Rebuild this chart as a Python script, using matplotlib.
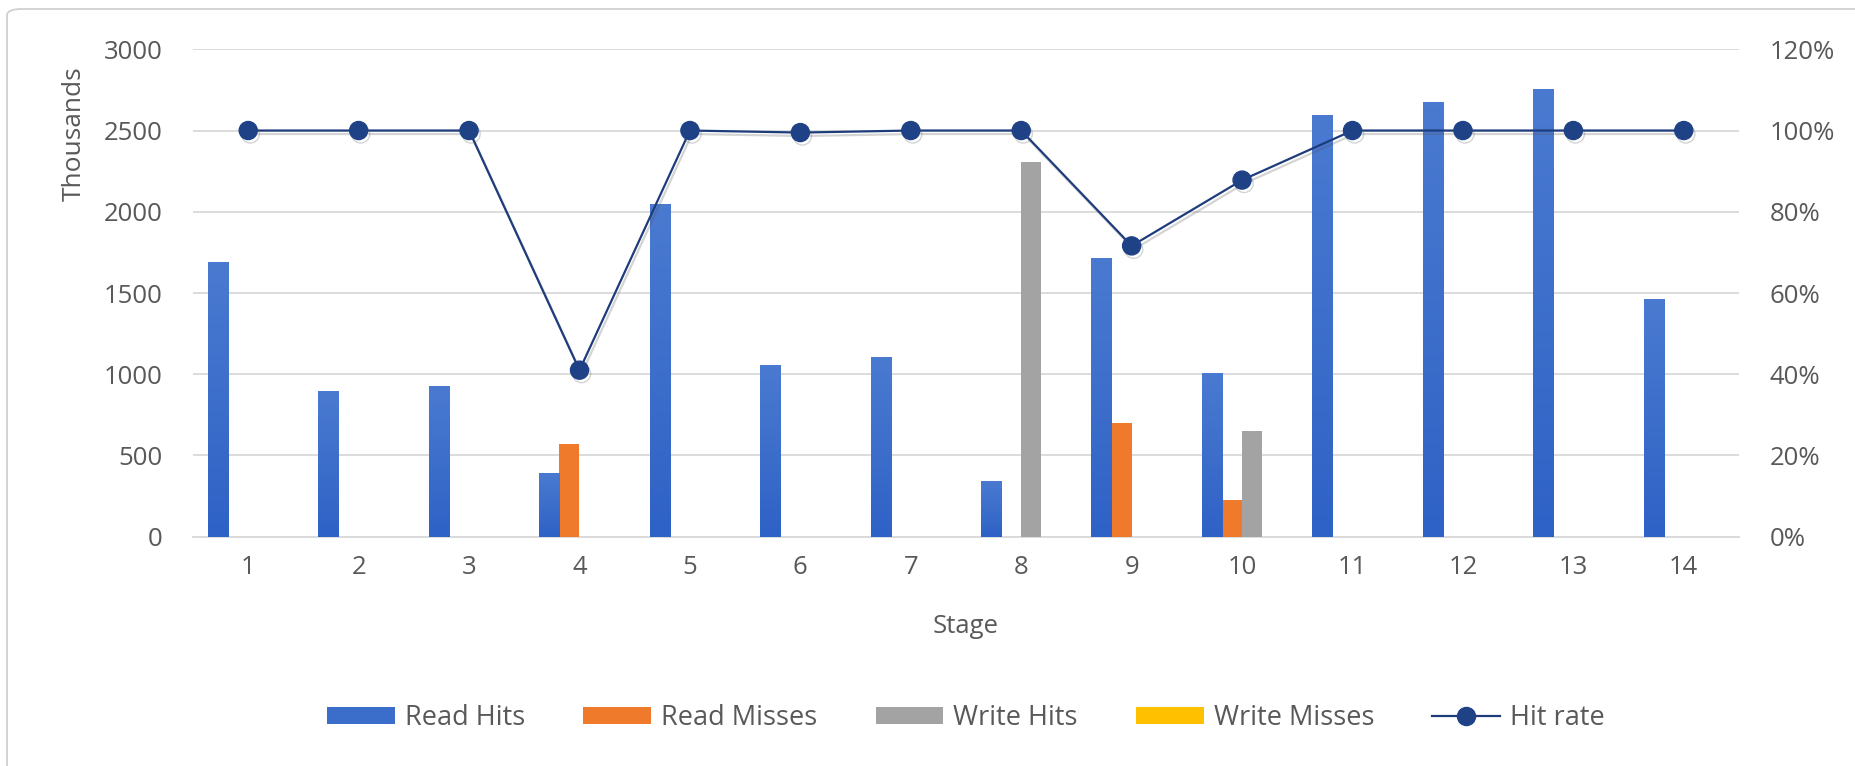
import numpy as np
import matplotlib
matplotlib.use("Agg")
import matplotlib.pyplot as plt
from matplotlib.patches import Patch, FancyBboxPatch
from matplotlib.lines import Line2D
from matplotlib.colors import LinearSegmentedColormap
import matplotlib.patheffects as pe
from matplotlib.ticker import FuncFormatter

# Cache activity per stage (values in thousands)
stages = list(range(1, 15))
read_hits = [1690, 897, 928, 394, 2048, 1057, 1104, 343, 1717, 1006, 2595, 2677, 2757, 1461]
read_misses = [0, 0, 0, 570, 0, 0, 0, 0, 698, 226, 0, 0, 0, 0]
write_hits = [0, 0, 0, 0, 0, 0, 0, 2304, 0, 651, 0, 0, 0, 0]
write_misses = [0, 0, 0, 0, 0, 0, 0, 0, 0, 0, 0, 0, 0, 0]
hit_rate = [100, 100, 100, 41, 100, 99.5, 100, 100, 71.6, 87.8, 100, 100, 100, 100]

series_names = ["Read Hits", "Read Misses", "Write Hits", "Write Misses"]
series_colors = ["#3B6DCB", "#EF7A2C", "#A3A3A3", "#FFC000"]
line_color = "#1E3C7C"
marker_color = "#1F4287"
text_color = "#595959"
grid_color = "#D9D9D9"

plt.rcParams["font.family"] = ["Open Sans", "DejaVu Sans"]

fig = plt.figure(figsize=(18.56, 7.66), dpi=100)
ax = fig.add_axes([193 / 1856, 1 - 536.7 / 766, (1739 - 193) / 1856, (536.7 - 49.3) / 766])

x = np.arange(1, 15)
width = 1 / 5.5
all_series = [read_hits, read_misses, write_hits, write_misses]
containers = []
for i, (vals, col) in enumerate(zip(all_series, series_colors)):
    off = (i - 1.5) * width
    containers.append(ax.bar(x + off, vals, width=width, color=col, zorder=3, linewidth=0))

# soft vertical shading on the Read Hits columns
shade = LinearSegmentedColormap.from_list("shade", ["#2F62C6", "#4A7AD0"])
ramp = np.linspace(0, 1, 64).reshape(-1, 1)
for bar in containers[0]:
    bx, by = bar.get_x(), bar.get_y()
    im = ax.imshow(ramp, extent=[bx, bx + bar.get_width(), by, by + bar.get_height()],
                   cmap=shade, aspect="auto", origin="lower", zorder=3.1,
                   interpolation="bilinear")
    im.set_clip_path(bar)

ax.set_xlim(0.5, 14.5)
ax.set_ylim(0, 3000)
ax.set_yticks(np.arange(0, 3001, 500))
ax.set_xticks(x)
ax.set_xticklabels([str(s) for s in stages])
ax.yaxis.grid(True, color=grid_color, linewidth=1.3, zorder=0)
ax.set_axisbelow(True)
for s in ["top", "right", "left"]:
    ax.spines[s].set_visible(False)
ax.spines["bottom"].set_color(grid_color)
ax.spines["bottom"].set_linewidth(1.3)
ax.tick_params(axis="both", length=0, labelsize=18.5, colors=text_color)
ax.tick_params(axis="y", pad=22)
ax.tick_params(axis="x", pad=13)
ax.set_xlabel("Stage", fontsize=18.5, color=text_color, labelpad=25)

ax2 = ax.twinx()
ax2.set_ylim(0, 120)
ax2.set_yticks(np.arange(0, 121, 20))
ax2.yaxis.set_major_formatter(FuncFormatter(lambda v, p: f"{int(v)}%"))
ax2.tick_params(axis="y", length=0, labelsize=18.5, colors=text_color, pad=22)
for s in ax2.spines.values():
    s.set_visible(False)
ax2.plot(x, hit_rate, color=line_color, linewidth=1.6, marker="o", markersize=13,
         markerfacecolor=marker_color, markeredgecolor=marker_color, zorder=5,
         path_effects=[pe.SimpleLineShadow(offset=(1.5, -2.5), alpha=0.25, shadow_color="#555555"),
                       pe.Normal()])

fig.text(74 / 1856, 1 - 134 / 766, "Thousands", rotation=90, ha="center", va="center",
         fontsize=19, color=text_color)

handles = [Patch(facecolor=c, edgecolor="none") for c in series_colors]
handles.append(Line2D([0], [0], color=line_color, linewidth=1.6, marker="o", markersize=13,
                      markerfacecolor=marker_color, markeredgecolor=marker_color))
labels = series_names + ["Hit rate"]
fig.legend(handles, labels, loc="center", bbox_to_anchor=(966 / 1856, 1 - 718 / 766),
           ncol=5, frameon=False, fontsize=19.5, labelcolor=text_color,
           handlelength=2.5, handleheight=0.6, handletextpad=0.37, columnspacing=2.15)

# chart area outline
border = FancyBboxPatch((7 / 1856, -0.05), 1.2, 1 - 9 / 766 + 0.05,
                        boxstyle="round,pad=0,rounding_size=0.008",
                        transform=fig.transFigure, facecolor="none",
                        edgecolor="#D0D0D0", linewidth=1.3, zorder=0)
fig.add_artist(border)

fig.savefig("out.png", dpi=100)
